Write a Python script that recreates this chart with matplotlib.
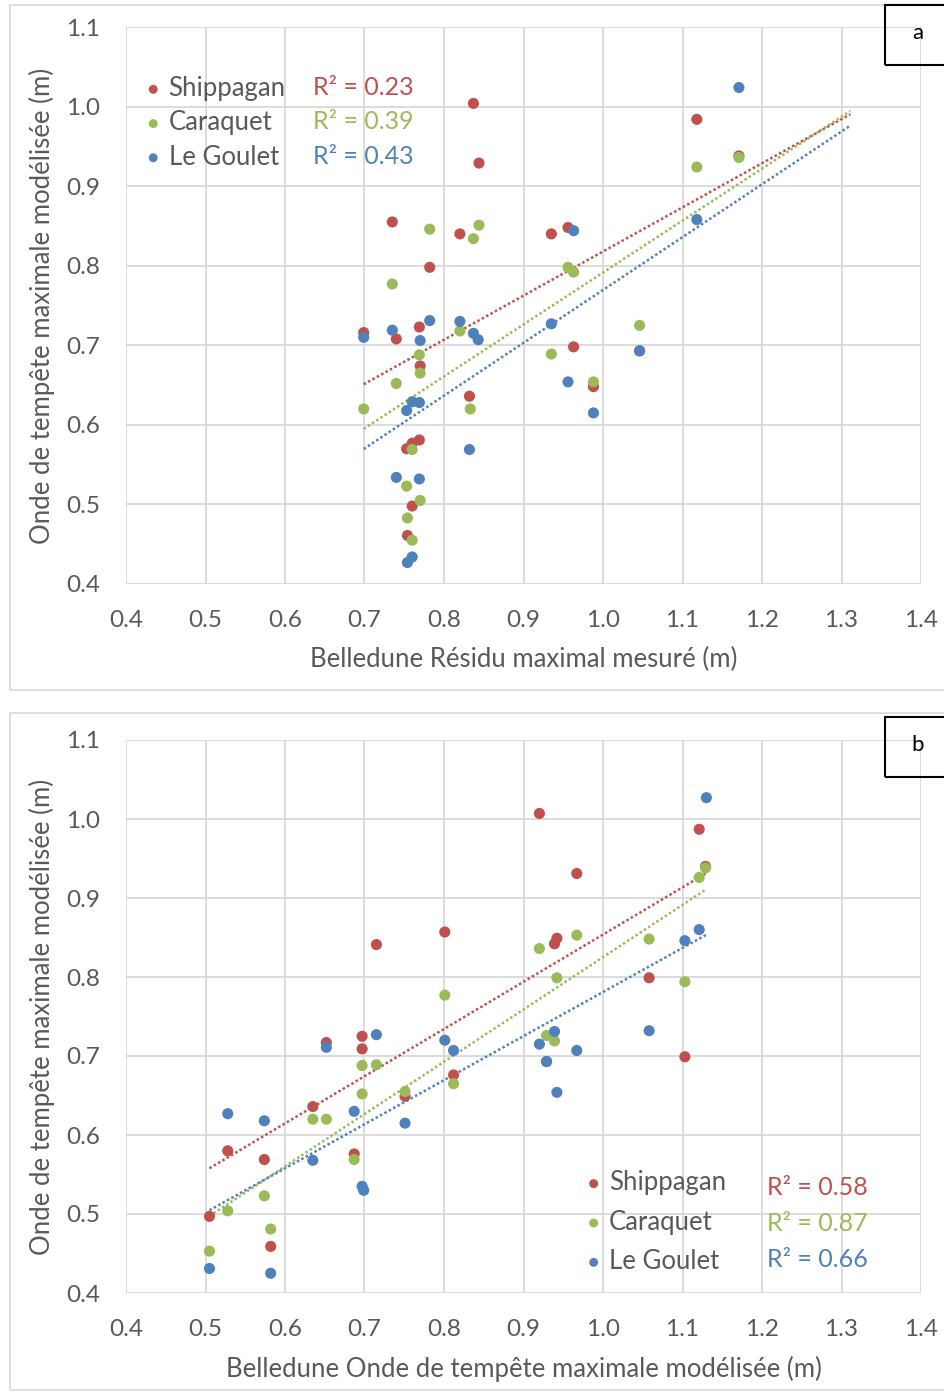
import numpy as np
import matplotlib
matplotlib.use("Agg")
import matplotlib.pyplot as plt
from matplotlib.patches import Rectangle

plt.rcParams['font.family'] = ['Lato', 'DejaVu Sans']

sites = ["Shippagan", "Caraquet", "Le Goulet"]
colors = ["#C0504D", "#9BBB59", "#4F81BD"]

# panel a : Belledune residu maximal mesure (x) vs onde modelisee (y)
ship_a_x = [0.837, 0.844, 0.735, 0.820, 0.782, 0.935, 0.956, 1.118, 1.171, 0.699, 0.740,
            0.769, 0.770, 0.963, 0.832, 0.988, 0.769, 0.753, 0.760, 0.760, 0.754, 1.046]
ship_a_y = [1.004, 0.929, 0.855, 0.840, 0.798, 0.840, 0.848, 0.984, 0.938, 0.716, 0.708,
            0.723, 0.674, 0.698, 0.636, 0.648, 0.581, 0.570, 0.577, 0.498, 0.461, 0.693]
cara_a_x = [0.782, 0.844, 0.837, 0.735, 0.820, 0.769, 0.770, 0.740, 0.699, 0.833, 0.956,
            0.963, 0.935, 0.988, 1.046, 1.118, 1.171, 0.760, 0.753, 0.770, 0.754, 0.760]
cara_a_y = [0.846, 0.851, 0.834, 0.777, 0.718, 0.688, 0.665, 0.652, 0.620, 0.620, 0.798,
            0.792, 0.689, 0.654, 0.725, 0.924, 0.936, 0.569, 0.523, 0.505, 0.483, 0.455]
goul_a_x = [0.699, 0.735, 0.782, 0.770, 0.820, 0.837, 0.843, 0.753, 0.760, 0.769, 0.832,
            0.740, 0.769, 0.760, 0.754, 0.935, 0.963, 0.956, 0.988, 1.046, 1.118, 1.171]
goul_a_y = [0.710, 0.719, 0.731, 0.706, 0.730, 0.715, 0.707, 0.618, 0.629, 0.628, 0.569,
            0.534, 0.532, 0.434, 0.427, 0.727, 0.844, 0.654, 0.615, 0.693, 0.858, 1.024]

# panel b : Belledune onde modelisee (x) vs onde modelisee (y)
ship_b_x = [0.652, 0.697, 0.697, 0.635, 0.528, 0.574, 0.687, 0.812, 0.751, 0.505, 0.582,
            0.920, 1.121, 1.129, 0.967, 0.942, 0.939, 1.058, 1.103, 0.801, 0.715, 0.929]
ship_b_y = [0.717, 0.725, 0.709, 0.636, 0.580, 0.569, 0.576, 0.676, 0.649, 0.497, 0.459,
            1.007, 0.987, 0.940, 0.931, 0.849, 0.842, 0.799, 0.699, 0.857, 0.841, 0.693]
cara_b_x = [0.697, 0.715, 0.697, 0.635, 0.652, 0.751, 0.812, 0.687, 0.574, 0.528, 0.582,
            0.505, 0.801, 1.129, 1.121, 0.967, 0.920, 1.058, 0.942, 1.103, 0.929, 0.939]
cara_b_y = [0.688, 0.689, 0.652, 0.620, 0.620, 0.655, 0.665, 0.569, 0.523, 0.504, 0.481,
            0.453, 0.777, 0.938, 0.926, 0.853, 0.836, 0.848, 0.799, 0.794, 0.726, 0.719]
goul_b_x = [0.528, 0.574, 0.652, 0.715, 0.687, 0.635, 0.697, 0.699, 0.801, 0.812, 0.751,
            0.505, 0.582, 1.130, 1.121, 1.103, 1.058, 0.939, 0.920, 0.967, 0.929, 0.942]
goul_b_y = [0.627, 0.618, 0.711, 0.727, 0.630, 0.568, 0.535, 0.530, 0.720, 0.707, 0.615,
            0.431, 0.425, 1.027, 0.860, 0.846, 0.732, 0.731, 0.715, 0.707, 0.693, 0.654]

r2_a = ["0.23", "0.39", "0.43"]
r2_b = ["0.58", "0.87", "0.66"]

ticks_x = [0.4, 0.5, 0.6, 0.7, 0.8, 0.9, 1.0, 1.1, 1.2, 1.3, 1.4]
ticks_y = [0.4, 0.5, 0.6, 0.7, 0.8, 0.9, 1.0, 1.1]

grey = "#595959"
gridc = "#D9D9D9"

fig = plt.figure(figsize=(9.45, 13.97), dpi=100)

# chart frames
fig.patches.append(Rectangle((10/945, 1-690/1397), 940/945, 685/1397, transform=fig.transFigure,
                             fill=False, edgecolor=gridc, lw=1.2))
fig.patches.append(Rectangle((10/945, 1-1390/1397), 940/945, 677/1397, transform=fig.transFigure,
                             fill=False, edgecolor=gridc, lw=1.2))

ax_a = fig.add_axes([126/945, 1-584/1397, 795/945, 557/1397])
ax_b = fig.add_axes([126/945, 1-1293/1397, 795/945, 553/1397])

panels = [
    (ax_a, [(ship_a_x, ship_a_y), (cara_a_x, cara_a_y), (goul_a_x, goul_a_y)],
     "Belledune Résidu maximal mesuré (m)", 0.14),
    (ax_b, [(ship_b_x, ship_b_y), (cara_b_x, cara_b_y), (goul_b_x, goul_b_y)],
     "Belledune Onde de tempête maximale modélisée (m)", 0.0),
]

for ax, series, xlabel, forward in panels:
    for (xs, ys), name, c in zip(series, sites, colors):
        ax.scatter(xs, ys, s=64, color=c, edgecolors="none", label=name, zorder=3)
    # linear trend lines (excel style)
    for (xs, ys), c in zip(series, colors):
        xs = np.array(xs)
        ys = np.array(ys)
        k, m = np.polyfit(xs, ys, 1)
        xl = np.array([xs.min(), xs.max() + forward])
        ax.plot(xl, k * xl + m, color=c, ls=(0, (1, 1)), lw=1.8, zorder=2)

    ax.set_xlim(0.4, 1.4)
    ax.set_ylim(0.4, 1.1)
    ax.set_xticks(ticks_x)
    ax.set_yticks(ticks_y)
    ax.set_xticklabels([f"{t:.1f}" for t in ticks_x])
    ax.set_yticklabels([f"{t:.1f}" for t in ticks_y])
    ax.grid(True, color=gridc, lw=1.3)
    ax.set_axisbelow(True)
    for sp in ax.spines.values():
        sp.set_visible(False)
    ax.tick_params(length=0, labelsize=17.5, colors=grey)
    ax.tick_params(axis="x", pad=19)
    ax.tick_params(axis="y", pad=18.5)
    ax.set_xlabel(xlabel, fontsize=18.5, color=grey)
    ax.set_ylabel("Onde de tempête maximale modélisée (m)", fontsize=18.5, color=grey)
    ax.xaxis.set_label_coords(0.5, -0.113)
    ax.yaxis.set_label_coords(-0.089, 0.5)

# legends
ax_a.legend(loc="upper left", bbox_to_anchor=(0.010, 0.935), frameon=False, fontsize=18.5,
            markerscale=0.8, handlelength=0.5, handletextpad=0.35, labelspacing=0.36,
            borderpad=0, labelcolor=grey)
for i, (txt, c) in enumerate(zip(r2_a, colors)):
    ax_a.text(0.235, 0.892 - i * 0.062, "R² = " + txt, transform=ax_a.transAxes, fontsize=18,
              color=c, va="center")

ax_b.legend(loc="upper left", bbox_to_anchor=(0.564, 0.245), frameon=False, fontsize=18.5,
            markerscale=0.8, handlelength=0.5, handletextpad=0.35, labelspacing=0.56,
            borderpad=0, labelcolor=grey)
for i, (txt, c) in enumerate(zip(r2_b, colors)):
    ax_b.text(0.806, 0.19 - i * 0.065, "R² = " + txt, transform=ax_b.transAxes, fontsize=18,
              color=c, va="center")

# panel tags
for tag, top in [("a", 5), ("b", 717)]:
    fig.patches.append(Rectangle((885/945, 1-(top+60)/1397), 70/945, 60/1397, transform=fig.transFigure,
                                 fill=False, edgecolor="black", lw=1.5))
    fig.text(918/945, 1-(top+28)/1397, tag, fontsize=16, color="black", ha="center", va="center")

fig.savefig("out.png", dpi=100)
